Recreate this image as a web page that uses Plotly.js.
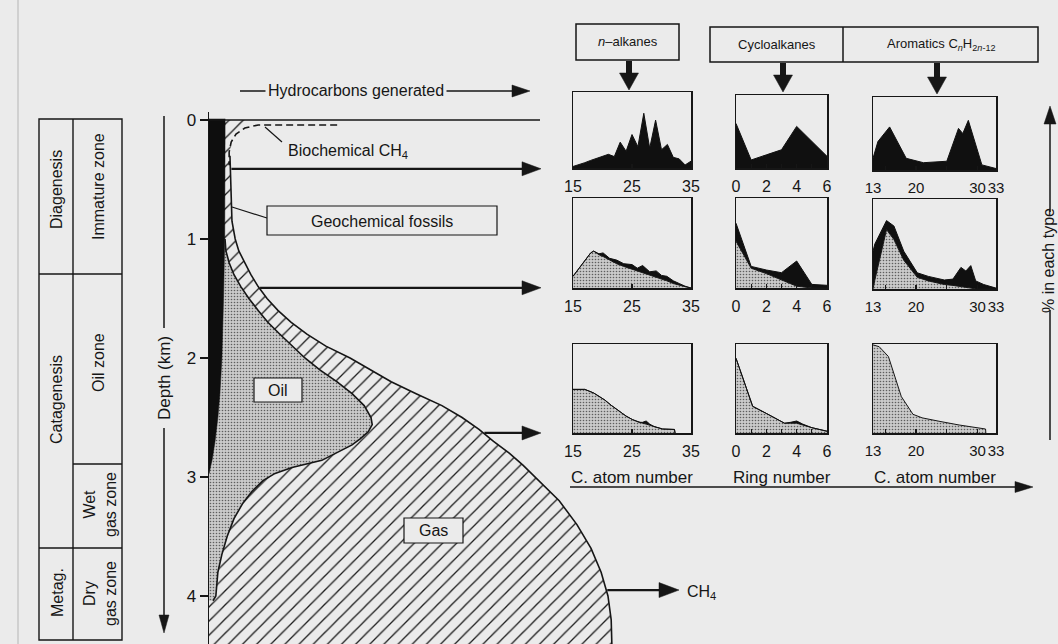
<!DOCTYPE html>
<html><head><meta charset="utf-8">
<script src="https://cdn.plot.ly/plotly-3.0.1.min.js"></script>
<style>html,body{margin:0;padding:0;background:#ebebeb;}#chart{width:1058px;height:644px;}</style>
</head><body><div id="chart"></div>
<script>
// ================= DATA =================
// Main diagram: depth (km) vs hydrocarbons generated (relative units, gas maximum = 100)
const depthTicks = [0, 1, 2, 3, 4];
const bitumenDepth  = [-0.01, 1.0, 1.5, 2.0, 2.3, 2.5, 2.7, 2.85, 2.97];
const bitumenAmount = [4.0, 3.9, 3.6, 3.2, 2.7, 2.2, 1.5, 0.8, 0];
const gasDepth  = [0, 0.04, 0.07, 0.12, 0.18, 0.3, 0.6, 0.85, 1.0, 1.1, 1.2, 1.3, 1.4, 1.5, 1.6, 1.7, 1.8, 1.9, 2.0, 2.1, 2.2, 2.3, 2.4, 2.5, 2.6, 2.7, 2.8, 2.9, 3.0, 3.2, 3.4, 3.6, 3.8, 4.0, 4.2, 4.45];
const gasAmount = [9.7, 8.4, 7.4, 6.2, 5.5, 5.2, 5.5, 5.7, 6.5, 7.4, 8.9, 10.4, 12.2, 14.4, 17.1, 20.4, 24.3, 29.0, 35.0, 40.2, 45.2, 51.4, 57.8, 62.8, 67.0, 70.6, 74.5, 77.9, 80.9, 86.9, 91.3, 94.8, 97.3, 99.0, 99.8, 100.0];
const oilDepth  = [1.0, 1.1, 1.2, 1.3, 1.4, 1.5, 1.6, 1.7, 1.8, 1.9, 2.0, 2.1, 2.2, 2.3, 2.4, 2.5, 2.56, 2.62, 2.68, 2.73, 2.79, 2.86, 2.92, 2.97, 3.03, 3.12, 3.22, 3.35, 3.5, 3.65, 3.8, 4.0, 4.04];
const oilAmount = [3.97, 4.2, 5.0, 6.2, 7.9, 9.9, 12.2, 14.6, 17.6, 20.6, 23.8, 27.5, 31.8, 35.5, 38.5, 40.2, 40.5, 39.5, 37.5, 35.5, 32.0, 28.0, 20.6, 16.4, 13.4, 10.7, 8.4, 6.2, 4.5, 3.2, 2.2, 1.7, 1.0];
const bioCH4Depth  = [0.042, 0.042, 0.067, 0.118, 0.185, 0.27, 0.38];
const bioCH4Amount = [31.8, 12.2, 8.9, 6.7, 5.5, 5.0, 5.0];
const sampleDepths = [0.41, 1.41, 2.63];
const ch4Depth = 3.95;

// Distributions (% in each type, relative 0-1)
// Row 1 (immature)
const nalk1X = [15, 16, 17, 18, 19, 20, 21, 22, 23, 24, 25, 26, 27, 28, 29, 30, 31, 32, 33, 34, 35];
const nalk1Y = [0.02, 0.04, 0.07, 0.10, 0.13, 0.16, 0.18, 0.15, 0.34, 0.22, 0.44, 0.28, 0.72, 0.26, 0.63, 0.24, 0.31, 0.14, 0.12, 0.04, 0.09];
const cyc1X = [0, 1, 2, 3, 4, 5, 6];
const cyc1Y = [0.61, 0.11, 0.18, 0.25, 0.57, 0.37, 0.16];
const aro1X = [13, 13.8, 15.7, 18.4, 21.2, 25, 26.9, 27.6, 28.5, 30.7, 33];
const aro1Y = [0.16, 0.39, 0.59, 0.16, 0.10, 0.12, 0.57, 0.50, 0.68, 0.07, 0.02];
// Row 2 (oil zone): base = new (stippled), total = base + geochemical fossils (black)
const nalk2X     = [15, 16, 17, 18, 18.5, 19.4, 20.1, 21.2, 22.4, 23.6, 25.0, 25.9, 26.8, 28.0, 29.1, 30.0, 30.9, 32.0, 33, 34, 35];
const nalk2Base  = [0.13, 0.22, 0.31, 0.39, 0.41, 0.37, 0.35, 0.31, 0.27, 0.24, 0.21, 0.19, 0.17, 0.14, 0.12, 0.10, 0.08, 0.05, 0.03, 0.015, 0];
const nalk2Total = [0.13, 0.22, 0.31, 0.39, 0.41, 0.38, 0.39, 0.33, 0.31, 0.27, 0.26, 0.22, 0.25, 0.18, 0.19, 0.14, 0.13, 0.08, 0.05, 0.02, 0];
const cyc2X     = [0, 1, 2, 3, 4, 5, 6];
const cyc2Base  = [0.52, 0.22, 0.16, 0.09, 0.02, 0, 0];
const cyc2Total = [0.72, 0.24, 0.20, 0.17, 0.30, 0.04, 0.03];
const aro2X     = [13, 13.3, 15.2, 16.4, 18, 20.2, 22, 24.6, 26, 27.3, 28.1, 28.9, 29.7, 31, 33];
const aro2Base  = [0, 0.1, 0.66, 0.55, 0.32, 0.13, 0.09, 0.05, 0.04, 0.03, 0.02, 0.01, 0, 0, 0];
const aro2Total = [0.42, 0.50, 0.76, 0.70, 0.42, 0.18, 0.14, 0.10, 0.11, 0.24, 0.20, 0.26, 0.09, 0.05, 0.01];
// Row 3 (wet gas zone)
const nalk3X     = [15, 17, 18.5, 20.4, 21.5, 22.9, 24, 25.1, 26.2, 26.8, 27.4, 28, 28.8, 30.2, 32.2, 32.3];
const nalk3Base  = [0.49, 0.49, 0.45, 0.37, 0.31, 0.24, 0.19, 0.15, 0.12, 0.11, 0.10, 0.09, 0.07, 0.045, 0.04, 0];
const nalk3Total = [0.49, 0.49, 0.45, 0.37, 0.31, 0.24, 0.19, 0.15, 0.12, 0.12, 0.135, 0.10, 0.07, 0.045, 0.04, 0];
const cyc3X     = [0, 1.1, 2, 3.2, 3.6, 4, 4.4, 5, 6];
const cyc3Base  = [0.84, 0.30, 0.22, 0.11, 0.11, 0.11, 0.09, 0.06, 0.02];
const cyc3Total = [0.84, 0.30, 0.22, 0.11, 0.12, 0.135, 0.10, 0.06, 0.02];
const aro3X    = [13, 14, 15.5, 16.5, 17.6, 19.5, 21, 23.9, 27, 31.3, 31.35];
const aro3Base = [0.99, 0.97, 0.86, 0.65, 0.41, 0.21, 0.17, 0.13, 0.09, 0.045, 0];

// Tick labels (labelled ticks + unlabelled minor ticks)
const nalkTicks = [15, 25, 35], nalkText = ['15', '25', '35'], nalkMinor = [];
const cycTicks = [0, 2, 4, 6], cycText = ['0', '2', '4', '6'], cycMinor = [1, 3, 5];
const aroTicks = [13, 20, 30, 33], aroText = ['13', '20', '30', '33'], aroMinor = [15, 25];
const xTitles = ['C. atom number', 'Ring number', 'C. atom number'];
const tableCells = [
  {t: 'Diagenesis', x: 57, y: 190}, {t: 'Immature zone', x: 98, y: 187},
  {t: 'Catagenesis', x: 57, y: 400}, {t: 'Oil zone', x: 98, y: 363},
  {t: 'Wet<br>gas zone', x: 100, y: 505}, {t: 'Metag.', x: 57, y: 593},
  {t: 'Dry<br>gas zone', x: 100, y: 594}
];

// ================= LAYOUT HELPERS =================
const W = 1058, H = 644;
const FONT = 'Liberation Sans, Arial, Helvetica, sans-serif';
const INK = '#161616';
const BG = '#ebebeb';
const fx = p => p / W, fy = p => 1 - p / H;
const X0 = 209, XS = 4.03, Y0 = 120, YS = 119;   // main axis mapping
const PX = u => X0 + u * XS, PY = d => Y0 + d * YS;
function interp(xs, ys, v) {
  for (let i = 0; i < xs.length - 1; i++) {
    if (v >= xs[i] && v <= xs[i + 1]) return ys[i] + (ys[i + 1] - ys[i]) * (v - xs[i]) / (xs[i + 1] - xs[i]);
  }
  return ys[ys.length - 1];
}
const shapes = [], annotations = [];
function line(x0, y0, x1, y1, w, dash) {
  shapes.push({type: 'line', xref: 'paper', yref: 'paper', x0: fx(x0), y0: fy(y0), x1: fx(x1), y1: fy(y1),
    line: {color: INK, width: w || 1.5, dash: dash || 'solid'}});
}
function rect(x0, y0, x1, y1, w, fill) {
  shapes.push({type: 'rect', xref: 'paper', yref: 'paper', x0: fx(x0), y0: fy(y0), x1: fx(x1), y1: fy(y1),
    line: {color: INK, width: w || 1.5}, fillcolor: fill || 'rgba(0,0,0,0)'});
}
function tri(ax, ay, bx, by, cx, cy) {
  shapes.push({type: 'path', xref: 'paper', yref: 'paper',
    path: `M${fx(ax)},${fy(ay)} L${fx(bx)},${fy(by)} L${fx(cx)},${fy(cy)} Z`,
    fillcolor: INK, line: {color: INK, width: 0.5}});
}
function hArrow(x0, x1, y, w, len, hw) {
  len = len || 18; hw = hw || 6.5;
  line(x0, y, x1 - len + 2, y, w || 2);
  tri(x1, y, x1 - len, y - hw, x1 - len, y + hw);
}
function downArrow(x, y0, y1) {
  shapes.push({type: 'rect', xref: 'paper', yref: 'paper', x0: fx(x - 3), x1: fx(x + 3), y0: fy(y0), y1: fy(y1 - 14),
    fillcolor: INK, line: {width: 0}});
  tri(x, y1, x - 9.5, y1 - 17, x + 9.5, y1 - 17);
}
function text(x, y, t, size, opts) {
  annotations.push(Object.assign({xref: 'paper', yref: 'paper', x: fx(x), y: fy(y), text: t, showarrow: false,
    xanchor: 'center', yanchor: 'middle', font: {family: FONT, size: size || 15, color: INK}}, opts || {}));
}

// ================= LAYOUT =================
const layout = {
  width: W, height: H, margin: {l: 0, r: 0, t: 0, b: 0},
  paper_bgcolor: BG, plot_bgcolor: 'rgba(0,0,0,0)', showlegend: false,
  font: {family: FONT, color: INK},
  xaxis: {domain: [fx(X0), fx(709)], range: [0, (709 - X0) / XS], visible: false, fixedrange: true},
  yaxis: {domain: [0, fy(112)], range: [(H - Y0) / YS, (112 - Y0) / YS], anchor: 'x',
    tickvals: depthTicks, ticktext: depthTicks.map(String), ticks: 'outside', ticklen: 8, tickwidth: 1.5,
    tickcolor: INK, showline: true, linecolor: INK, linewidth: 1.5, showgrid: false, zeroline: false,
    tickfont: {family: FONT, size: 17, color: INK}, fixedrange: true},
  shapes: shapes, annotations: annotations
};

// Small panels: boxes in px
const cols = [
  {l: 573, r: 691, range: [15, 35], tv: nalkTicks, tt: nalkText, mv: nalkMinor, fs: 16},
  {l: 736, r: 827, range: [0, 6], tv: cycTicks, tt: cycText, mv: cycMinor, fs: 16},
  {l: 873, r: 996, range: [13, 33], tv: aroTicks, tt: aroText, mv: aroMinor, fs: 15}
];
const rows = [
  [{t: 92, b: 168}, {t: 95, b: 168}, {t: 97, b: 170}],
  [{t: 198, b: 288}, {t: 198, b: 288}, {t: 199, b: 289}],
  [{t: 344, b: 433}, {t: 344, b: 433}, {t: 344, b: 433}]
];
const axId = (r, c) => 2 + r * 3 + c;
for (let r = 0; r < 3; r++) for (let c = 0; c < 3; c++) {
  const i = axId(r, c), col = cols[c], box = rows[r][c];
  const xa = {domain: [fx(col.l), fx(col.r)], range: col.range, anchor: 'y' + i,
    showline: true, mirror: true, linecolor: INK, linewidth: 1.5, ticks: 'inside', ticklen: 4, tickwidth: 1.3,
    tickcolor: INK, tickmode: 'array', tickvals: col.tv, ticktext: col.tt, tickangle: 0, showgrid: false, zeroline: false,
    tickfont: {family: FONT, size: col.fs, color: INK}, ticklabelstandoff: 3, fixedrange: true};
  if (col.mv.length) xa.minor = {tickmode: 'array', tickvals: col.mv, ticks: 'inside', ticklen: 4, tickwidth: 1.3, tickcolor: INK, showgrid: false};
  layout['xaxis' + i] = xa;
  layout['yaxis' + i] = {domain: [fy(box.b), fy(box.t)], range: [0, 1], anchor: 'x' + i,
    showline: true, mirror: true, linecolor: INK, linewidth: 1.5, ticks: '', showticklabels: false,
    showgrid: false, zeroline: false, fixedrange: true};
}

// ================= TRACES =================
const hatch = {shape: '/', size: 10, solidity: 0.13, fgcolor: '#1c1c1c', bgcolor: BG};
const stipple = {shape: '.', size: 3, solidity: 0.22, fgcolor: '#5e5e5e', bgcolor: '#cacaca'};
const traces = [];
// gas (hatched), oil (stippled), bitumen/geochemical fossils (black)
traces.push({x: gasAmount.concat([0, 0]), y: gasDepth.concat([gasDepth[gasDepth.length - 1], gasDepth[0]]),
  type: 'scatter', mode: 'lines', fill: 'toself', fillcolor: BG, fillpattern: hatch, line: {width: 0}, hoverinfo: 'skip'});
traces.push({x: oilAmount.concat([0, 0]), y: oilDepth.concat([oilDepth[oilDepth.length - 1], oilDepth[0]]),
  type: 'scatter', mode: 'lines', fill: 'toself', fillcolor: '#c2c2c2', fillpattern: stipple, line: {width: 0}, hoverinfo: 'skip'});
traces.push({x: bitumenAmount.concat([0]), y: bitumenDepth.concat([bitumenDepth[0]]),
  type: 'scatter', mode: 'lines', fill: 'toself', fillcolor: '#0e0e0e', line: {width: 0.5, color: '#0e0e0e'}, hoverinfo: 'skip'});
// outlines
const gi = gasDepth.indexOf(0.3);
traces.push({x: gasAmount.slice(gi), y: gasDepth.slice(gi), type: 'scatter', mode: 'lines',
  line: {color: INK, width: 1.6}, hoverinfo: 'skip'});
traces.push({x: oilAmount, y: oilDepth, type: 'scatter', mode: 'lines', line: {color: INK, width: 1.6}, hoverinfo: 'skip'});
traces.push({x: bioCH4Amount, y: bioCH4Depth, type: 'scatter', mode: 'lines',
  line: {color: INK, width: 1.6, dash: '7px,4px'}, hoverinfo: 'skip'});

function panelFill(i, x, y, kind, fillMode) {
  const t = {x: x, y: y, xaxis: 'x' + i, yaxis: 'y' + i, type: 'scatter', mode: 'lines', fill: fillMode || 'tozeroy', hoverinfo: 'skip'};
  if (kind === 'black') { t.fillcolor = '#101010'; t.line = {color: '#101010', width: 1}; }
  else { t.fillcolor = '#c2c2c2'; t.fillpattern = stipple; t.line = {color: INK, width: 1}; }
  traces.push(t);
}
panelFill(axId(0, 0), nalk1X, nalk1Y, 'black');
panelFill(axId(0, 1), cyc1X, cyc1Y, 'black');
panelFill(axId(0, 2), aro1X, aro1Y, 'black');
panelFill(axId(1, 0), nalk2X, nalk2Base, 'gray');
panelFill(axId(1, 0), nalk2X, nalk2Total, 'black', 'tonexty');
panelFill(axId(1, 1), cyc2X, cyc2Base, 'gray');
panelFill(axId(1, 1), cyc2X, cyc2Total, 'black', 'tonexty');
panelFill(axId(1, 2), aro2X, aro2Base, 'gray');
panelFill(axId(1, 2), aro2X, aro2Total, 'black', 'tonexty');
panelFill(axId(2, 0), nalk3X, nalk3Base, 'gray');
panelFill(axId(2, 0), nalk3X, nalk3Total, 'black', 'tonexty');
panelFill(axId(2, 1), cyc3X, cyc3Base, 'gray');
panelFill(axId(2, 1), cyc3X, cyc3Total, 'black', 'tonexty');
panelFill(axId(2, 2), aro3X, aro3Base, 'gray');

// ================= ANNOTATION SHAPES =================
// page edge (scan)
shapes.push({type: 'line', xref: 'paper', yref: 'paper', x0: fx(18), x1: fx(18), y0: 0, y1: 1, line: {color: '#b5b5b5', width: 1}});
// stage table
rect(39, 119, 122, 640, 1.4);
line(73, 119, 73, 640, 1.4);
line(39, 274, 122, 274, 1.4);
line(73, 464, 122, 464, 1.4);
line(39, 548, 122, 548, 1.4);
tableCells.forEach(c => text(c.x, c.y, c.t, 16, {textangle: -90}));
// depth arrow
line(164, 116, 164, 328, 1.5);
line(164, 428, 164, 620, 1.5);
tri(164, 633, 159, 615, 169, 615);
text(164, 378, 'Depth (km)', 17, {textangle: -90});
// surface line at depth 0
line(203, PY(0), 540, PY(0), 1.5);
// hydrocarbons generated arrow
hArrow(240, 530, 91, 1.5, 18, 6);
text(356, 91, 'Hydrocarbons generated', 16, {bgcolor: BG, borderpad: 2});
// sample arrows to the distribution panels
sampleDepths.forEach(d => hArrow(PX(interp(gasDepth, gasAmount, d)) + 1, 541, PY(d), 2.2, 19, 7));
// CH4 arrow
hArrow(PX(interp(gasDepth, gasAmount, ch4Depth)) + 1, 679, PY(ch4Depth), 2.2, 20, 7.5);
text(701, 592, 'CH<sub>4</sub>', 16);
// labels in main diagram
line(265, 127, 282, 142, 1.2);
text(348, 151, 'Biochemical CH<sub>4</sub>', 16);
line(267, 218, 232, 207, 1.2);
rect(267, 206, 497, 235, 1.2, BG);
text(382, 221, 'Geochemical fossils', 16);
rect(254, 378, 302, 402, 1.2, BG);
text(278, 390, 'Oil', 16);
rect(404, 518, 463, 543, 1.2, BG);
text(433, 530, 'Gas', 16);
// header boxes
rect(576, 24, 679, 60, 1.5);
text(628, 42, '<i>n</i>\u2013alkanes', 13);
rect(710, 27, 1038, 62, 1.5);
line(843, 27, 843, 62, 1.5);
text(777, 45, 'Cycloalkanes', 13);
text(941, 45, 'Aromatics C<sub><i>n</i></sub>H<sub>2<i>n</i>-12</sub>', 13);
downArrow(629, 61, 90);
downArrow(783, 63, 92);
downArrow(937, 63, 94);
// x-axis titles and long arrow
cols.forEach((c, k) => text((c.l + c.r) / 2, 477, xTitles[k], 17));
hArrow(570, 1033, 487, 1.5, 18, 5.5);
// % in each type arrow
line(1050, 440, 1050, 310, 1.5);
line(1050, 212, 1050, 120, 1.5);
tri(1050, 106, 1044, 124, 1056, 124);
text(1048, 261, '% in each type', 16, {textangle: -90});

Plotly.newPlot('chart', traces, layout, {staticPlot: true, displayModeBar: false});
</script></body></html>
